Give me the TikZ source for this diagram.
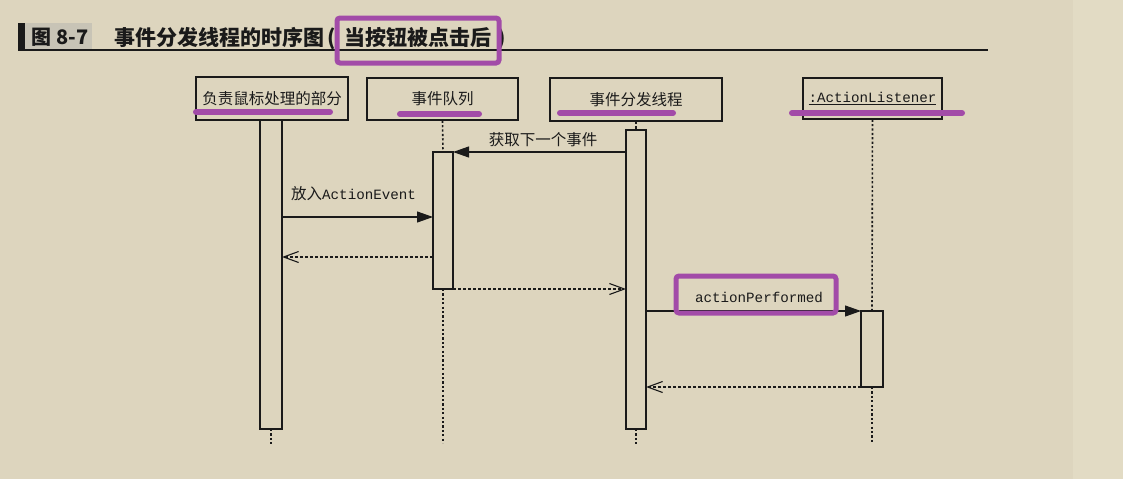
\documentclass[tikz,border=0pt]{standalone}
\usepackage{fontspec}
\setmainfont{Noto Sans CJK SC}
\setmonofont{Liberation Mono}
\usetikzlibrary{arrows.meta}
\definecolor{bg}{HTML}{DDD5BE}
\definecolor{bgr}{HTML}{E2DBC4}
\definecolor{hl}{HTML}{A24BA8}
\definecolor{tagbg}{HTML}{C8C4B6}
\definecolor{ink}{HTML}{1A1A1A}
\begin{document}
\begin{tikzpicture}[x=1pt,y=-1pt,
  headbox/.style={draw=ink, inner sep=0pt, font=\fontsize{15.5}{16}\selectfont, text=ink},
  actbar/.style={draw=ink, fill=bg, line width=1.1pt, inner sep=0pt, outer sep=0pt},
  lifeline/.style={draw=ink, line width=1.6pt, dash pattern=on 2.2pt off 2.2pt},
  callarrow/.style={draw=ink, line width=1.1pt, -{Triangle[length=16pt,width=11pt]}},
  retarrow/.style={draw=ink, line width=1.1pt, dash pattern=on 3pt off 2pt, -{Straight Barb[length=15pt,width=11pt,line width=1.1pt]}},
  msglabel/.style={font=\fontsize{15.5}{16}\selectfont, inner sep=0pt, text=ink},
  monolabel/.style={font=\fontsize{14.2}{16}\selectfont\ttfamily, inner sep=0pt, text=ink},
  hlline/.style={draw=hl, line width=6pt, line cap=round},
  hlbox/.style={draw=hl, line width=5pt, rounded corners=3pt},
]
% background
\fill[bg] (0,0) rectangle (1073,479);
\fill[bgr] (1073,0) rectangle (1123,479);
\useasboundingbox (0,0) rectangle (1123,479);

% title
\fill[ink] (18,23) rectangle (25,51);
\fill[tagbg] (25,23) rectangle (92,49);
\node[font=\fontsize{20}{20}\selectfont\bfseries, text=ink, inner sep=0pt] (tag) at (60,37) {图 8-7};
\draw[ink, line width=1.4pt] (18,50) -- (988,50);
\node[anchor=base west, font=\fontsize{21}{21}\selectfont\bfseries, text=ink, inner sep=0pt] (title) at (114,45) {事件分发线程的时序图\hspace{3pt}(\hspace{9pt}当按钮被点击后\hspace{6pt})};

% heads
\node[headbox, line width=2pt, minimum width=152pt, minimum height=43pt] (h1) at (272,98.5) {\raisebox{-2pt}{负责鼠标处理的部分}};
\node[headbox, line width=1.3pt, minimum width=151pt, minimum height=42pt] (h2) at (442.5,99) {\raisebox{-1pt}{事件队列}};
\node[headbox, line width=2pt, minimum width=172pt, minimum height=43pt] (h3) at (636,99.5) {事件分发线程};
\node[headbox, line width=1.2pt, minimum width=139pt, minimum height=41pt, font=\fontsize{14.2}{16}\selectfont\ttfamily] (h4) at (872.5,98.5) {\underline{:ActionListener}};

% activation bars
\node[actbar, minimum width=22pt, minimum height=309pt] (b1) at (271,274.5) {};
\node[actbar, minimum width=20pt, minimum height=137pt] (b2) at (443,220.5) {};
\node[actbar, minimum width=20pt, minimum height=299pt] (b3) at (636,279.5) {};
\node[actbar, minimum width=22pt, minimum height=76pt] (b4) at (872,349) {};

% lifeline ends
\coordinate (e1) at (271,445);
\coordinate (e2) at (443,443);
\coordinate (e3) at (636,445);
\coordinate (e4) at (872,444);
\draw[lifeline] (b1.south) -- (e1);
\draw[lifeline] (h2.south) -- (b2.north);
\draw[lifeline] (b2.south) -- (e2);
\draw[lifeline] (h3.south) -- (b3.north);
\draw[lifeline] (b3.south) -- (e3);
\draw[lifeline] (h4.south) -- (b4.north);
\draw[lifeline] (b4.south) -- (e4);

% message levels
\coordinate (y1) at (0,152);
\coordinate (y2) at (0,217);
\coordinate (y3) at (0,257);
\coordinate (y4) at (0,289);
\coordinate (y5) at (0,311);
\coordinate (y6) at (0,387);

\draw[callarrow] (b3.west |- y1) -- (b2.east |- y1);
\node[msglabel] (l1) at (543,140) {获取下一个事件};
\draw[callarrow] (b1.east |- y2) -- (b2.west |- y2);
\node[msglabel, anchor=west] (l2) at (291,194) {放入{\fontsize{14.2}{16}\selectfont\ttfamily ActionEvent}};
\draw[retarrow] (b2.west |- y3) -- (b1.east |- y3);
\draw[retarrow] (b2.east |- y4) -- (b3.west |- y4);
\draw[callarrow] (b3.east |- y5) -- (b4.west |- y5);
\node[monolabel] (l5) at (759,297) {actionPerformed};
\draw[retarrow] (b4.west |- y6) -- (b3.east |- y6);

% highlights
\draw[hlline] (196,112) -- (330,112);
\draw[hlline] (400,114) -- (479,114);
\draw[hlline] (560,113) -- (673,113);
\draw[hlline] (792,113) -- (962,113);
\draw[hlbox] (337,18) rectangle (499,63);
\draw[hlbox] (676,276) rectangle (836,313);
\end{tikzpicture}
\end{document}
